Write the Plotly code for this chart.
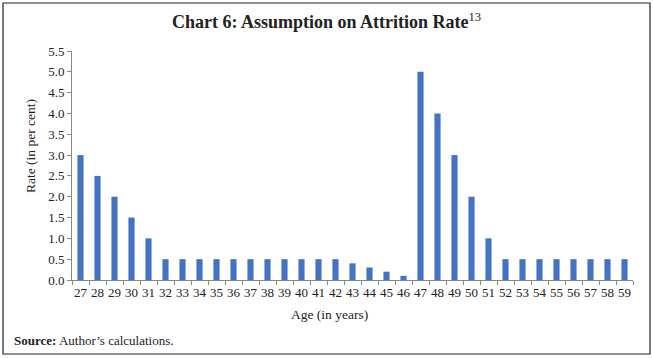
import plotly.graph_objects as go

ages = [str(a) for a in range(27, 60)]
rates = [3.0, 2.5, 2.0, 1.5, 1.0,
         0.5, 0.5, 0.5, 0.5, 0.5, 0.5, 0.5, 0.5, 0.5, 0.5, 0.5,
         0.4, 0.3, 0.2, 0.1,
         5.0, 4.0, 3.0, 2.0, 1.0,
         0.5, 0.5, 0.5, 0.5, 0.5, 0.5, 0.5, 0.5]
y_ticks = [0.0, 0.5, 1.0, 1.5, 2.0, 2.5, 3.0, 3.5, 4.0, 4.5, 5.0, 5.5]

W, H = 653, 358
L, R, T, B = 72, 20, 51, 78
pw, ph = W - L - R, H - T - B

def px(x):
    return (x - L) / pw

def py(y):
    return (H - B - y) / ph

font = "Liberation Serif, Times New Roman, serif"
ink = "#222222"

fig = go.Figure(go.Bar(x=ages, y=rates, marker=dict(color="#4472C4", line=dict(width=0)), width=0.36))

fig.update_layout(
    width=W, height=H,
    margin=dict(l=L, r=R, t=T, b=B, autoexpand=False),
    paper_bgcolor="white", plot_bgcolor="white",
    font=dict(family=font, size=13, color=ink),
    showlegend=False,
    title=dict(text="<b>Chart 6: Assumption on Attrition Rate</b><sup>13</sup>",
               x=0.5, xanchor="center", y=1 - 22 / H, yanchor="middle",
               font=dict(family=font, size=18, color=ink)),
    xaxis=dict(type="category", tickson="boundaries", ticks="outside", ticklen=4,
               tickcolor="#888888", showline=True, linecolor="#888888", linewidth=1,
               showgrid=False, tickfont=dict(size=13), tickangle=0, automargin=False),
    yaxis=dict(range=[0, 5.5], tickvals=y_ticks, ticktext=[f"{v:.1f}" for v in y_ticks],
               ticks="outside", ticklen=4, tickcolor="#888888", showline=True,
               linecolor="#888888", linewidth=1, showgrid=False, zeroline=False,
               tickfont=dict(size=13), automargin=False),
    shapes=[dict(type="rect", xref="paper", yref="paper",
                 x0=px(3), x1=px(650), y0=py(354), y1=py(3),
                 line=dict(color=ink, width=1.2), layer="above")],
    annotations=[
        dict(text="Age (in years)", xref="paper", yref="paper",
             x=px(329), y=py(314), xanchor="center", yanchor="middle", showarrow=False,
             font=dict(family=font, size=13.5, color=ink)),
        dict(text="Rate (in per cent)", xref="paper", yref="paper", textangle=-90,
             x=px(30), y=py(146), xanchor="center", yanchor="middle", showarrow=False,
             font=dict(family=font, size=13.5, color=ink)),
        dict(text="<b>Source:</b> Author’s calculations.", xref="paper", yref="paper",
             x=px(12), y=py(340), xanchor="left", yanchor="middle", showarrow=False,
             font=dict(family=font, size=13, color=ink)),
    ],
)

fig.write_html("out.html", config={"displayModeBar": False},
               post_script="document.body.style.margin='0';document.body.style.overflow='hidden';")
